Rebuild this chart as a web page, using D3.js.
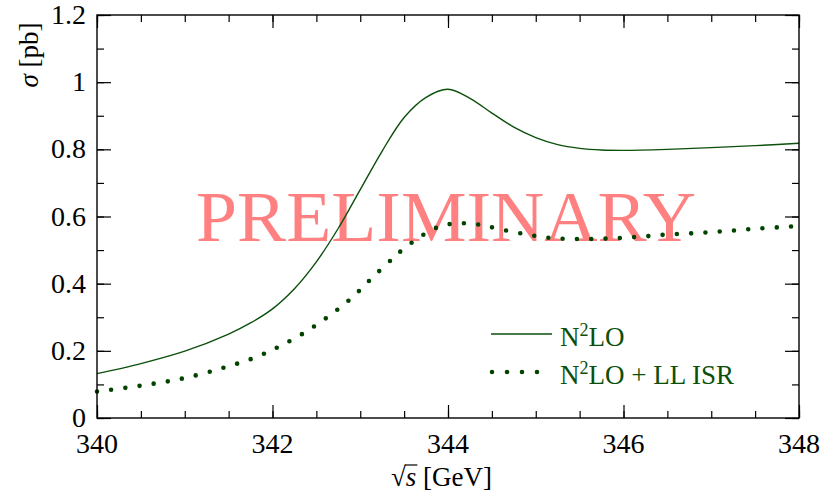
<!DOCTYPE html>
<html>
<head>
<meta charset="utf-8">
<script src="https://cdn.jsdelivr.net/npm/d3@7"></script>
<style>
  body { margin: 0; background: #fff; }
  #chart text, #chart tspan { font-family: "Liberation Serif", "Times New Roman", Tinos !important; }
</style>
</head>
<body>
<svg id="chart" width="822" height="494"></svg>
<script>
// values
const n2loX = [340.0, 340.5, 341.0, 341.5, 341.75, 342.0, 342.25, 342.5, 342.75, 343.0, 343.25, 343.5, 343.75, 344.0, 344.25, 344.5, 344.75, 345.0, 345.25, 345.5, 345.75, 346.0, 346.5, 347.0, 347.5, 348.0];
const n2loY = [0.132, 0.162, 0.199, 0.250, 0.283, 0.325, 0.385, 0.465, 0.565, 0.68, 0.795, 0.895, 0.955, 0.979, 0.952, 0.908, 0.866, 0.835, 0.814, 0.803, 0.798, 0.797, 0.800, 0.805, 0.811, 0.818];

const isrX = [340.0, 340.49, 340.98, 341.46, 341.8, 342.07, 342.35, 342.63, 342.9, 343.13, 343.37, 343.49, 343.63, 343.76, 343.91, 344.07, 344.24, 344.40, 344.56, 344.89, 345.21, 345.54, 345.87, 346.20, 346.53, 346.86, 347.19, 347.52, 347.84, 348.0];
const isrY = [0.079, 0.096, 0.118, 0.151, 0.18, 0.212, 0.252, 0.301, 0.357, 0.416, 0.475, 0.503, 0.530, 0.552, 0.571, 0.579, 0.579, 0.574, 0.564, 0.547, 0.535, 0.533, 0.535, 0.540, 0.547, 0.551, 0.557, 0.564, 0.569, 0.572];

const xTicks = [340, 342, 344, 346, 348];
const yTicks = [0, 0.2, 0.4, 0.6, 0.8, 1, 1.2];
const legendLabels = ["N²LO", "N²LO + LL ISR"];

const green = "#0b4f0b";
const svg = d3.select("#chart");
const m = {left: 97, right: 799, top: 15, bottom: 418};

const x = d3.scaleLinear().domain([340, 348]).range([m.left, m.right]);
const y = d3.scaleLinear().domain([0, 1.2]).range([m.bottom, m.top]);

// ticks, all pointing inward
const minorX = d3.range(340, 348.01, 0.5);
const minorY = d3.range(0, 1.201, 0.1);
function addAxis(axisFn, scale, vals, size, tr) {
    svg.append("g").attr("transform", tr)
        .call(axisFn(scale).tickValues(vals).tickSize(size).tickFormat(""))
        .call(g => g.select(".domain").remove())
        .call(g => g.selectAll("line").attr("stroke", "#000").attr("stroke-width", 1.2));
}
addAxis(d3.axisTop, x, minorX, 7, `translate(0,${m.bottom})`);
addAxis(d3.axisTop, x, xTicks, 13, `translate(0,${m.bottom})`);
addAxis(d3.axisBottom, x, minorX, 7, `translate(0,${m.top})`);
addAxis(d3.axisBottom, x, xTicks, 13, `translate(0,${m.top})`);
addAxis(d3.axisRight, y, minorY, 7, `translate(${m.left},0)`);
addAxis(d3.axisRight, y, yTicks, 14, `translate(${m.left},0)`);
addAxis(d3.axisLeft, y, minorY, 7, `translate(${m.right},0)`);
addAxis(d3.axisLeft, y, yTicks, 14, `translate(${m.right},0)`);

// tick labels
svg.append("g").selectAll("text").data(yTicks).join("text")
    .attr("x", m.left - 11).attr("y", d => y(d) + 9)
    .attr("text-anchor", "end").attr("font-size", 28).attr("fill", "#000")
    .text(d => d3.format("")(d));
svg.append("g").selectAll("text").data(xTicks).join("text")
    .attr("x", d => x(d)).attr("y", m.bottom + 35)
    .attr("text-anchor", "middle").attr("font-size", 28).attr("fill", "#000")
    .text(d => d);

// watermark
svg.append("text")
    .attr("x", 196).attr("y", 241)
    .attr("font-size", 72).attr("fill", "#ff8080")
    .attr("textLength", 500).attr("lengthAdjust", "spacingAndGlyphs")
    .text("PRELIMINARY");

// curves
const lineFn = d3.line().x(d => x(d[0])).y(d => y(d[1])).curve(d3.curveCatmullRom.alpha(0.5));
svg.append("path")
    .attr("d", lineFn(d3.zip(n2loX, n2loY)))
    .attr("fill", "none").attr("stroke", green).attr("stroke-width", 1.4);
svg.append("path")
    .attr("d", lineFn(d3.zip(isrX, isrY)))
    .attr("fill", "none").attr("stroke", "#004400").attr("stroke-width", 4.6)
    .attr("stroke-linecap", "round").attr("stroke-dasharray", "0 14.3");

// frame
svg.append("rect")
    .attr("x", m.left).attr("y", m.top)
    .attr("width", m.right - m.left).attr("height", m.bottom - m.top)
    .attr("fill", "none").attr("stroke", "#000").attr("stroke-width", 1.4);

// legend
svg.append("line").attr("x1", 491).attr("x2", 552).attr("y1", 334).attr("y2", 334)
    .attr("stroke", green).attr("stroke-width", 1.4);
svg.append("line").attr("x1", 492).attr("x2", 540).attr("y1", 372).attr("y2", 372)
    .attr("stroke", "#004400").attr("stroke-width", 4.6)
    .attr("stroke-linecap", "round").attr("stroke-dasharray", "0 15");
legendLabels.forEach((lab, i) => {
    const t = svg.append("text").attr("x", 560).attr("y", 346 + i * 38)
        .attr("font-size", 27).attr("fill", green);
    t.append("tspan").text("N");
    t.append("tspan").attr("font-size", 18).attr("dy", -10).text("2");
    t.append("tspan").attr("dy", 10).text(lab.slice(2));
});

// axis titles
const xl = svg.append("text").attr("x", 391).attr("y", 486).attr("font-size", 27).attr("fill", "#000");
xl.append("tspan").text("√");
xl.append("tspan").attr("font-style", "italic").text("s");
xl.append("tspan").text(" [GeV]");
const parts = xl.selectAll("tspan").nodes();
const rootW = parts[0].getComputedTextLength();
const sW = parts[1].getComputedTextLength();
svg.append("line")
    .attr("x1", 391 + rootW - 1).attr("x2", 391 + rootW + sW + 1)
    .attr("y1", 465).attr("y2", 465)
    .attr("stroke", "#000").attr("stroke-width", 1.2);

const yl = svg.append("text")
    .attr("transform", "translate(38,55) rotate(-90)")
    .attr("text-anchor", "middle").attr("font-size", 27).attr("fill", "#000");
yl.append("tspan").attr("font-style", "italic").text("σ");
yl.append("tspan").text(" [pb]");
</script>
</body>
</html>
